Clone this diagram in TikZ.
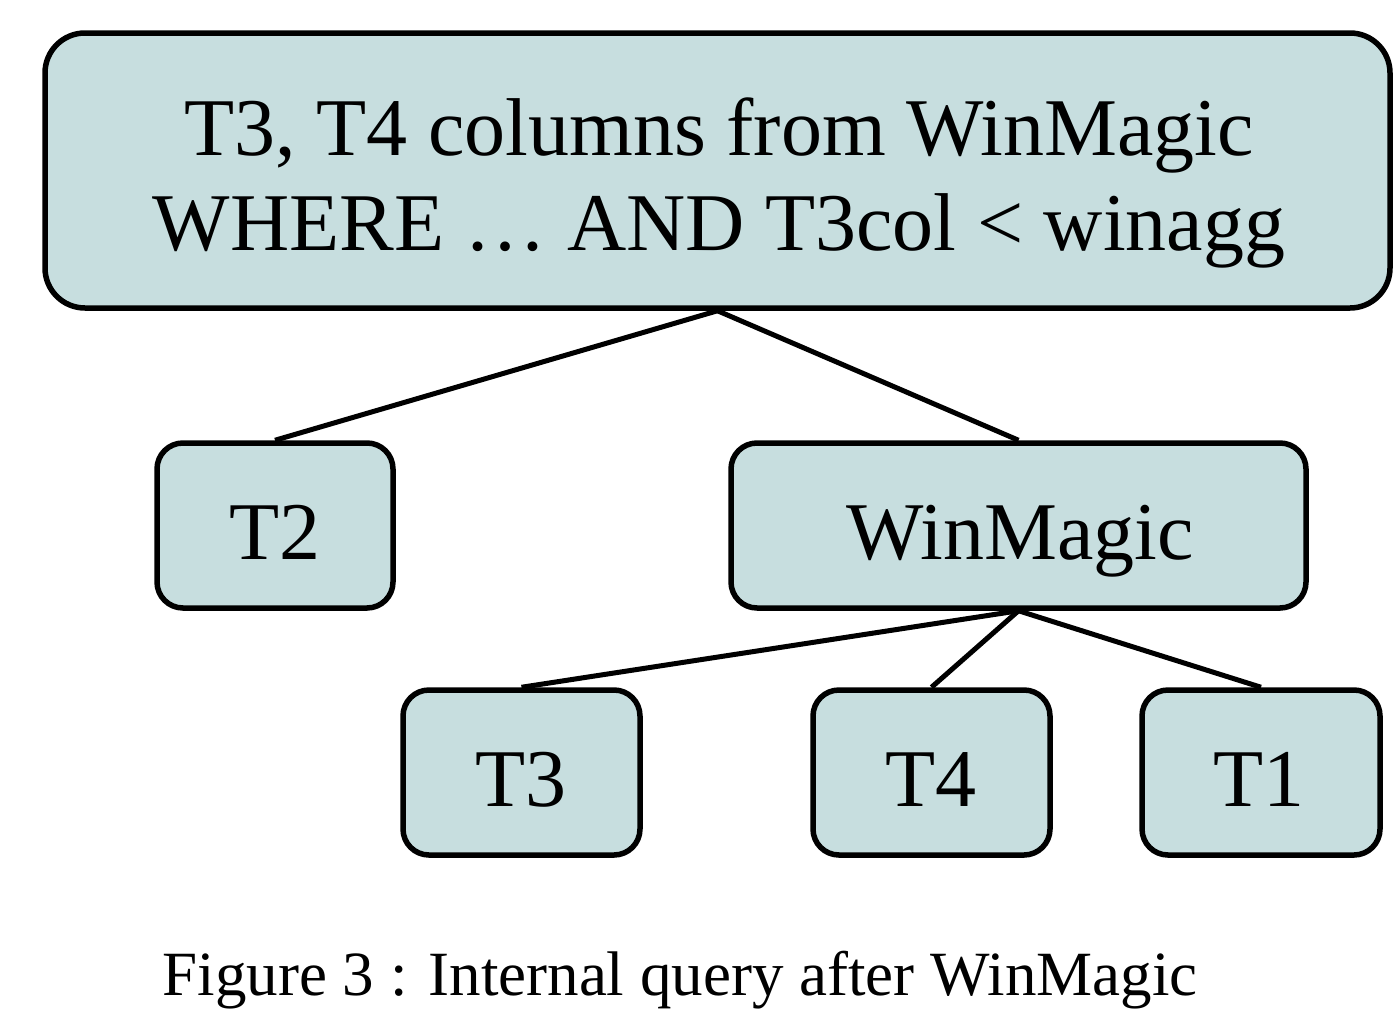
\documentclass[tikz,border=0pt]{standalone}
\usepackage{fontspec}
\setmainfont{Liberation Serif}
\definecolor{boxfill}{RGB}{199,222,223}
\begin{document}
\begin{tikzpicture}[x=1pt,y=-1pt,
  box/.style={draw=black,line width=5.5pt,fill=boxfill,rounded corners=26pt,inner sep=0pt},
  conn/.style={line width=5pt,black}]
\useasboundingbox (0,0) rectangle (1400,1021);
\node[box,rounded corners=40pt,minimum width=1345pt,minimum height=275pt] (top) at (717.5,170.5) {};
\node[box,minimum width=236pt,minimum height=165pt] (t2) at (275,525.5) {};
\node[box,minimum width=575pt,minimum height=165pt] (wm) at (1018.5,525.5) {};
\node[box,minimum width=237pt,minimum height=165pt] (t3) at (521.5,772.5) {};
\node[box,minimum width=237pt,minimum height=165pt] (t4) at (931.5,772.5) {};
\node[box,minimum width=238pt,minimum height=165pt] (t1) at (1261,772.5) {};
\draw[conn] (top.south) -- (t2.north);
\draw[conn] (top.south) -- (wm.north);
\draw[conn] (wm.south) -- (t3.north);
\draw[conn] (wm.south) -- (t4.north);
\draw[conn] (wm.south) -- (t1.north);
% text
\node[anchor=base,font=\fontsize{82}{95}\selectfont] (l1) at (719,155) {T3, T4 columns from WinMagic};
\node[anchor=base,font=\fontsize{82}{95}\selectfont] (l2) at (719,250) {WHERE … AND T3col < winagg};
\node[anchor=base,font=\fontsize{82}{95}\selectfont] (tx2) at (275,559) {T2};
\node[anchor=base,font=\fontsize{82}{95}\selectfont] (txw) at (1020,559) {WinMagic};
\node[anchor=base,font=\fontsize{82}{95}\selectfont] (tx3) at (521,806) {T3};
\node[anchor=base,font=\fontsize{82}{95}\selectfont] (tx4) at (931,806) {T4};
\node[anchor=base,font=\fontsize{82}{95}\selectfont] (tx1) at (1259,806) {T1};
\node[anchor=base,font=\fontsize{63}{70}\selectfont] (cap) at (680,995) {Figure 3 : Internal query after WinMagic};
\end{tikzpicture}
\end{document}
